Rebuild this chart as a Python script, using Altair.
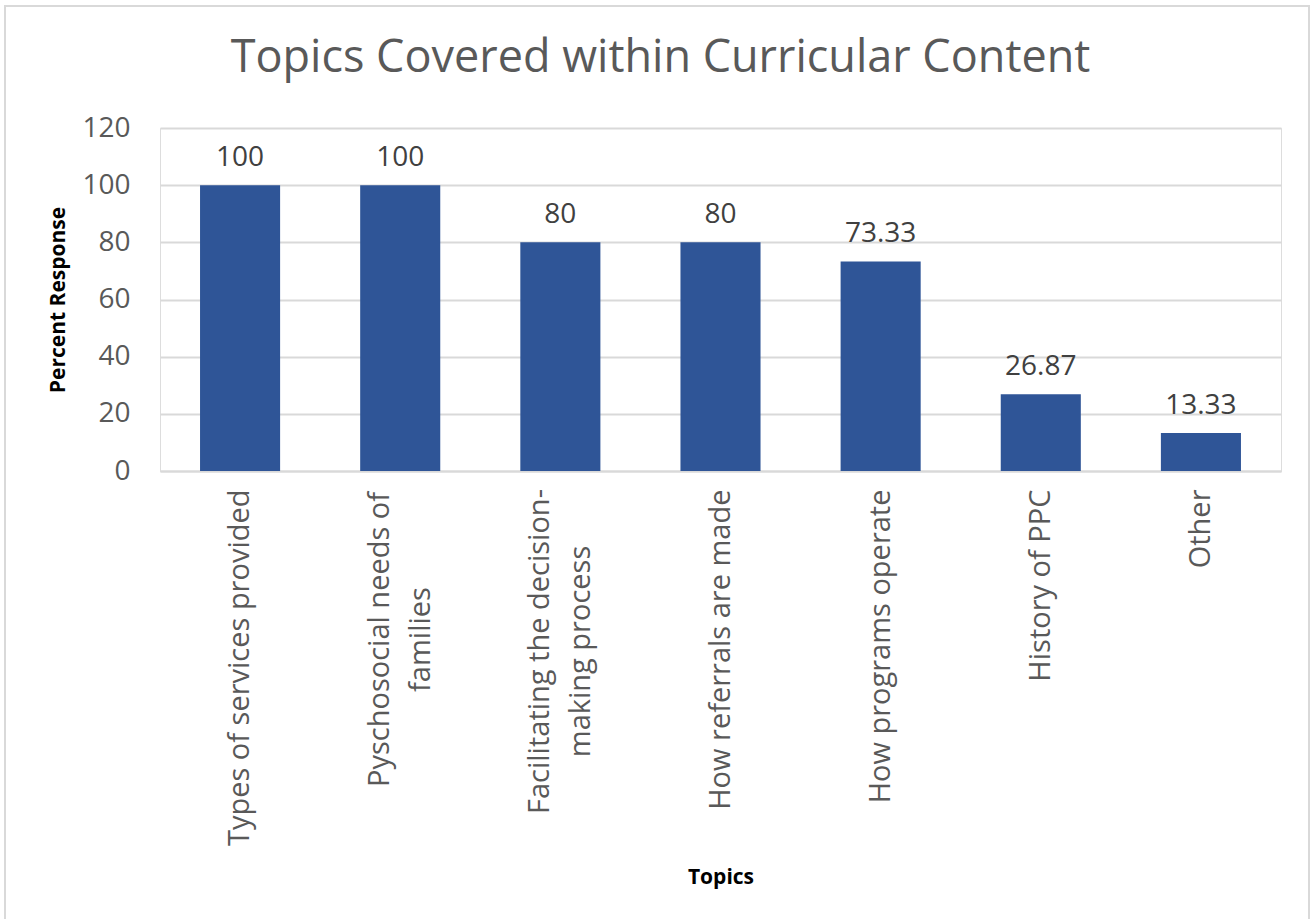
import altair as alt
import pandas as pd

topics = [
    "Types of services provided",
    "Pyschosocial needs of\nfamilies",
    "Facilitating the decision-\nmaking process",
    "How referrals are made",
    "How programs operate",
    "History of PPC",
    "Other",
]
percents = [100, 100, 80, 80, 73.33, 26.87, 13.33]
value_labels = ["100", "100", "80", "80", "73.33", "26.87", "13.33"]

df = pd.DataFrame({"topic": topics, "pct": percents, "lbl": value_labels})

FONT = "Open Sans"
MULTI = "indexof(datum.value, '\\n') >= 0"
MULTI_PSY = "indexof(datum.value, 'Pyschosocial') >= 0"

x_enc = alt.X(
    "topic:N",
    sort=topics,
    title="Topics",
    scale=alt.Scale(paddingInner=0.5, paddingOuter=0.25),
    axis=alt.Axis(
        labelAngle=270,
        labelAlign={"condition": {"test": MULTI, "value": "center"}, "value": "right"},
        labelBaseline="middle",
        labelExpr="split(datum.label, '\\n')",
        labelLineHeight=41,
        labelFontSize=29,
        labelFont=FONT,
        labelColor="#595959",
        labelPadding={
            "condition": [
                {"test": MULTI_PSY, "value": 168},
                {"test": MULTI, "value": 180},
            ],
            "value": 18,
        },
        labelOffset={"condition": {"test": MULTI, "value": -20}, "value": 0},
        labelLimit=0,
        ticks=False,
        domain=True,
        domainColor="#D9D9D9",
        domainWidth=2,
        titleFont=FONT,
        titleFontSize=21,
        titleFontWeight="bold",
        titleColor="#000000",
        titleY=412,
        titleBaseline="alphabetic",
    ),
)

y_enc = alt.Y(
    "pct:Q",
    title="Percent Response",
    scale=alt.Scale(domain=[0, 120], nice=False),
    axis=alt.Axis(
        values=[0, 20, 40, 60, 80, 100, 120],
        labelFontSize=28,
        labelFont=FONT,
        labelColor="#595959",
        labelPadding=30,
        ticks=False,
        domain=False,
        grid=True,
        gridColor="#D9D9D9",
        gridWidth=2,
        titleFont=FONT,
        titleFontSize=21,
        titleFontWeight="bold",
        titleColor="#000000",
        titleX=-102,
        titleBaseline="middle",
    ),
)

bars = alt.Chart(df).mark_bar(color="#2F5597").encode(x=x_enc, y=y_enc)

texts = alt.Chart(df).mark_text(
    baseline="alphabetic", dy=-19, fontSize=28, font=FONT, color="#404040"
).encode(x=alt.X("topic:N", sort=topics), y="pct:Q", text="lbl:N")

border = alt.Chart(df).mark_rect(
    fill=None, stroke="#D9D9D9", strokeWidth=2
).encode(
    x=alt.value(-155), x2=alt.value(1149), y=alt.value(-122), y2=alt.value(800)
)

chart = (
    alt.layer(border, bars, texts)
    .properties(
        width=1121,
        height=343,
        padding={"left": 160, "top": 128, "right": 29, "bottom": 448},
        autosize=alt.AutoSizeParams(type="none"),
        title=alt.TitleParams(
            "Topics Covered within Curricular Content",
            font=FONT,
            fontSize=45,
            fontWeight="normal",
            color="#595959",
            anchor="middle",
            frame="group",
            baseline="alphabetic",
            dx=-60,
            dy=112,
            offset=0,
        ),
    )
    .configure_view(stroke=None)
    .configure(background="white")
)

chart.save("out.html", embed_options={"renderer": "svg", "actions": False})
